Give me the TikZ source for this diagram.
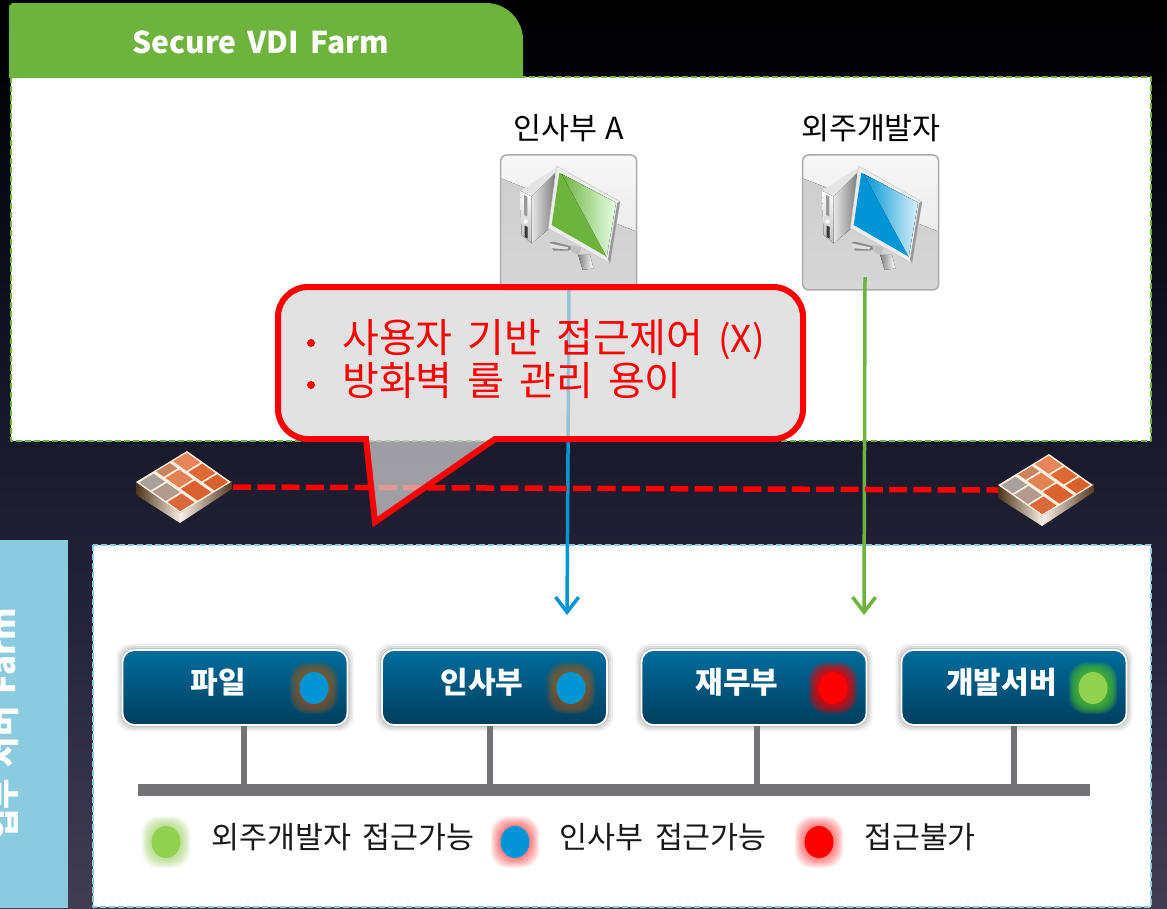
\documentclass[tikz,border=0pt]{standalone}
\usepackage{fontspec}
\setmainfont{Noto Sans CJK KR}
\usetikzlibrary{arrows.meta,calc}
\newcommand{\wsk}[1]{\spaceskip #1\relax}
\definecolor{grn}{HTML}{6FB33F}
\definecolor{blu}{HTML}{0096D6}
\definecolor{lblue}{HTML}{8BCBDF}
\definecolor{busgray}{HTML}{737277}
\definecolor{c908}{HTML}{413E54}
\definecolor{c600}{HTML}{25233A}
\definecolor{c450}{HTML}{1A1A2E}
\definecolor{c200}{HTML}{0A0A14}
\definecolor{c0}{HTML}{000000}
\definecolor{srvtop}{HTML}{006D9C}
\definecolor{srvbot}{HTML}{003E5E}
\definecolor{brn}{HTML}{8A5A2C}
\definecolor{gl}{HTML}{4FC030}
\definecolor{lime}{HTML}{92D050}
\pgfdeclareverticalshading{bgshade}{100bp}{color(0bp)=(c908);
 color(25bp)=(c908); color(41bp)=(c600); color(50bp)=(c450); color(64bp)=(c200); color(75bp)=(c0); color(100bp)=(c0)}
\tikzset{
 panelg/.style={draw=grn,fill=white,line width=1.6pt,dash pattern=on 6pt off 3pt},
 panelb/.style={draw=lblue,fill=white,line width=1.6pt,dash pattern=on 6pt off 3pt},
 tile/.style={draw=none,minimum width=136pt,minimum height=135pt,inner sep=0pt},
 srv/.style={draw=white,line width=1.8pt,rounded corners=12pt,minimum width=225pt,minimum height=75pt,inner sep=0pt,top color=srvtop,bottom color=srvbot},
 srvtext/.style={text=white,font=\fontsize{30pt}{32pt}\bfseries,inner sep=0pt},
 lab/.style={text=black,font=\fontsize{30.4pt}{34pt}\selectfont\wsk{8pt},inner sep=0pt},
 leg/.style={text=black!90,font=\fontsize{30.4pt}{34pt}\selectfont\wsk{12pt},inner sep=0pt},
 calltext/.style={text=red,anchor=west,inner sep=0pt,font=\fontsize{40pt}{44pt}\selectfont\wsk{15pt}},
 stub/.style={draw=busgray,line width=6pt},
 flow/.style={line width=3.5pt,-{Straight Barb[length=15pt,width=23pt,line width=3.5pt]}},
}
\newcommand{\glowdot}[5]{%
 \foreach \g in {10,9.5,...,1}{
  \fill[#1,opacity=#5,rounded corners=17pt] (#2-14.5-\g,#3-16-\g) rectangle (#2+14.5+\g,#3+16+\g);
 }
 \fill[#4] (#2,#3) ellipse [x radius=14.5pt,y radius=16pt];
}
\begin{document}
\begin{tikzpicture}[x=1pt,y=-1pt,line join=round]
\useasboundingbox (0,0) rectangle (1167,908);
\shade[shading=bgshade] (0,0) rectangle (1167,908);
% panels
\path[panelg] (11,77) rectangle (1151,441);
\path[panelb] (93,545) rectangle (1151,907);
\fill[grn] (9,78) -- (9,6) -- (12,3) -- (486,3) to[out=0,in=90] (523,40) -- (523,78) -- cycle;
\node[text=white,font=\fontsize{30pt}{32pt}\bfseries\wsk{11pt},inner sep=0pt] (vdi) at (260.5,42) {Secure VDI Farm};
\fill[lblue] (0,540) rectangle (68,908);
\begin{scope}
\clip (0,540) rectangle (68,908);
\node[text=white,font=\fontsize{33pt}{36pt}\bfseries\wsk{12pt},rotate=90,inner sep=0pt] (sup) at (3,724) {업무 서버 Farm};
\end{scope}
% labels
\node[lab] (l1) at (569,128) {인사부 A};
\node[lab] (l2) at (871,128) {외주개발자};
% tiles and icons
\foreach \nm/\cx/\dx/\main/\light in {t1/569/480/grn/green!10!white, t2/871/782/blu/blu!15!white}{
 \node[tile] (\nm) at (\cx,222.5) {};
 \begin{scope}[shift={(\dx,100)},x=0.3333pt,y=-0.3333pt]
  \begin{scope}
  \clip[rounded corners=6pt] (62,165) rectangle (470,570);
  \fill[top color=white!94!gray,bottom color=white!85!gray] (62,165) rectangle (470,400);
  \fill[top color=black!19,bottom color=black!16] (62,235) -- (470,395) -- (470,570) -- (62,570) -- cycle;
  \end{scope}
  \draw[black!33,line width=1.5pt,rounded corners=6pt] (62,165) rectangle (470,570);
 \end{scope}
 \begin{scope}[shift={(\dx+30,160)},x=0.3333pt,y=-0.3333pt]
  % tower
  \fill[black!10] (30,92) -- (130,28) -- (145,25) -- (135,42) -- (65,110) -- cycle;
  \fill[left color=white!90!black,right color=black!50] (65,110) -- (135,40) -- (118,205) -- (65,250) -- cycle;
  \fill[top color=white,bottom color=black!25] (30,92) -- (65,110) -- (65,250) -- (35,225) -- cycle;
  \fill[black!40] (42,105) -- (52,110) -- (52,170) -- (42,165) -- cycle;
  \fill[black!80] (44,197) -- (53,201) -- (53,236) -- (44,231) -- cycle;
  \fill[white] (47,185) circle (6);
  % stand
  \fill[black!45] (118,248) -- (130,245) -- (195,262) -- (175,272) -- (130,272) -- cycle;
  \fill[white!88!black] (118,250) -- (175,262) -- (172,268) -- (125,265) -- cycle;
  \fill[black!25] (180,255) -- (215,262) -- (205,285) -- (185,275) -- cycle;
  \fill[left color=black!50,right color=white] (205,285) -- (240,285) -- (250,325) -- (218,330) -- cycle;
  % monitor
  \filldraw[fill=white!93!black,draw=black!22,line width=.5pt] (140,18) -- (330,125) -- (300,310) -- (115,205) -- cycle;
  \fill[black!40] (330,125) -- (322,128) -- (294,298) -- (300,310) -- cycle;
  \fill[\main] (148,38) -- (318,128) -- (290,290) -- (125,195) -- cycle;
  \fill[left color=\main,right color=\light] (155,42) -- (318,128) -- (290,290) -- cycle;
 \end{scope}
}
% firewalls
\coordinate (fwa) at (233,487);
\coordinate (fwb) at (998,490);
\foreach \sx/\sy in {0/0,862/3}{
 \begin{scope}[shift={(\sx,\sy)}]
  \fill[left color=black!60!brown,right color=white!85!brown] (136,482) -- (180,513) -- (180,523) -- (136,495) -- cycle;
  \fill[left color=white!90!brown,right color=black!55!brown] (180,513) -- (232,480) -- (232,489) -- (180,523) -- cycle;
  \begin{scope}[shift={(136,482)},x={(51pt,31pt)},y={(44pt,-31pt)}]
   \fill[white!88!orange] (0,0) -- (1,0) -- (1,1) -- (0,1) -- cycle;
   \foreach \a/\b/\c/\d/\cl in {
    .03/.04/.31/.30/A8A09C,.03/.34/.31/.64/B29A8E,.03/.68/.31/.97/D9693A,
    .37/.03/.64/.20/C9835F,.37/.24/.64/.55/E38354,.37/.59/.64/.97/DB6230,
    .70/.03/.97/.34/E8855A,.70/.38/.97/.68/DD6A34,.70/.72/.97/.97/D95F2B}{
    \definecolor{tmpc}{HTML}{\cl}
    \fill[tmpc] (\a,\b) -- (\c,\b) -- (\c,\d) -- (\a,\d) -- cycle;
   }
  \end{scope}
 \end{scope}
}
% flows
\coordinate (bluS) at (569,290);
\coordinate (bluE) at (567,615);
\coordinate (grnS) at (865,277);
\coordinate (grnE) at (864,615);
\draw[flow,draw=blu] (bluS) -- (bluE);
\draw[flow,draw=grn] (grnS) -- (grnE);
\draw[red,line width=5.5pt,dash pattern=on 18pt off 6.3pt] (fwa) -- (fwb);
% servers
\foreach \nm/\cx in {s1/235,s2/494.5,s3/754,s4/1014}{
 \foreach \sh/\op in {6/.06,4/.08,2/.12}{
  \fill[black,opacity=\op,rounded corners=14pt] (\cx-112.5-\sh,650-\sh) rectangle (\cx+112.5+\sh,725+\sh);
 }
 \node[srv] (\nm) at (\cx,687.5) {};
}
\node[srvtext] (st1) at (218.5,682) {파일};
\node[srvtext] (st2) at (482,682) {인사부};
\node[srvtext] (st3) at (737,682) {재무부};
\node[srvtext] (st4) at (1001.5,682) {개발서버};
\glowdot{brn}{314}{688}{blu}{.09}
\glowdot{brn}{571}{688}{blu}{.09}
\glowdot{red}{833}{688}{red}{.08}
\glowdot{gl}{1093}{688}{lime}{.09}
% bus
\node[fill=busgray,minimum width=952pt,minimum height=12pt,inner sep=0pt] (bus) at (614,790) {};
\coordinate (a1) at ($(s1.south)+(9,0)$);
\coordinate (a2) at ($(s2.south)+(-5,0)$);
\coordinate (a3) at ($(s3.south)+(3,0)$);
\coordinate (a4) at (s4.south);
\foreach \a in {a1,a2,a3,a4}{
 \draw[stub] (\a) -- (\a |- bus.north);
}
% legend
\glowdot{lime}{166}{842}{lime}{.04}
\glowdot{red}{515}{842}{blu}{.03}
\glowdot{red}{819}{842}{red}{.03}
\node[leg] (lg1) at (343,837) {외주개발자 접근가능};
\node[leg] (lg2) at (663,837) {인사부 접근가능};
\node[leg] (lg3) at (920,837) {접근불가};
% callout
\path[fill=black!16,fill opacity=.7]
  (366,439) -- (375,522) -- (495,439) [rounded corners=30pt] -- (803,439) -- (803,287) -- (278,287) -- (278,439) [sharp corners] -- cycle;
\draw[red,line width=6pt,miter limit=10,line join=miter]
  (366,439) -- (375,522) -- (495,439) [rounded corners=30pt] -- (803,439) -- (803,287) -- (278,287) -- (278,439) [sharp corners] -- cycle;
\fill[red] (311,343) circle (4);
\fill[red] (311,385) circle (4);
\node[calltext] (c1) at (342,340) {사용자 기반 접근제어 {\fontsize{37pt}{44pt}\selectfont (X)}};
\node[calltext] (c2) at (342,381) {방화벽 룰 관리 용이};
\end{tikzpicture}
\end{document}
